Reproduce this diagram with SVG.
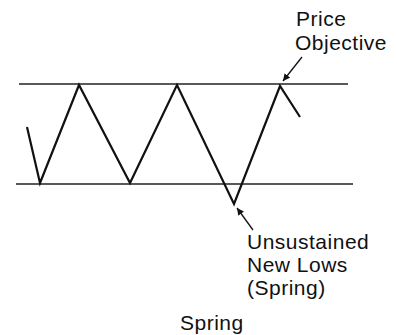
<svg xmlns="http://www.w3.org/2000/svg" width="397" height="335" viewBox="0 0 397 335">
<defs>
<marker id="ah" viewBox="0 0 10 10" refX="10" refY="5" markerWidth="7" markerHeight="7" markerUnits="userSpaceOnUse" orient="auto">
<path d="M0,0 L10,5 L0,10 z" fill="#111"/>
</marker>
<style>
.t{font-family:"Liberation Sans",Arial,sans-serif;font-size:21px;letter-spacing:0.5px;fill:#111}
.band{stroke:#222;stroke-width:1.4;fill:none}
.zig{stroke:#111;stroke-width:2.2;fill:none;stroke-linejoin:miter}
.lead{stroke:#111;stroke-width:1.3;fill:none}
</style>
</defs>
<rect width="397" height="335" fill="#fff"/>
<g id="resistance"><line class="band" x1="19" y1="84" x2="348" y2="84"/></g>
<g id="support"><line class="band" x1="16" y1="184" x2="353" y2="184"/></g>
<g id="price"><polyline class="zig" points="27,127 40,183 79,85 130,183 177,85 234,204 280,86 300,117"/></g>
<g id="label-objective">
<text class="t" x="296" y="26">Price</text>
<text class="t" x="295" y="50">Objective</text>
</g>
<g id="label-lows">
<text class="t" x="247" y="249">Unsustained</text>
<text class="t" x="247" y="272">New Lows</text>
<text class="t" x="247" y="295">(Spring)</text>
</g>
<g id="caption"><text class="t" x="180" y="330">Spring</text></g>
<g id="connectors">
<line class="lead" x1="302" y1="57" x2="283" y2="81" marker-end="url(#ah)"/>
<line class="lead" x1="253" y1="230" x2="237" y2="208" marker-end="url(#ah)"/>
</g>
</svg>
